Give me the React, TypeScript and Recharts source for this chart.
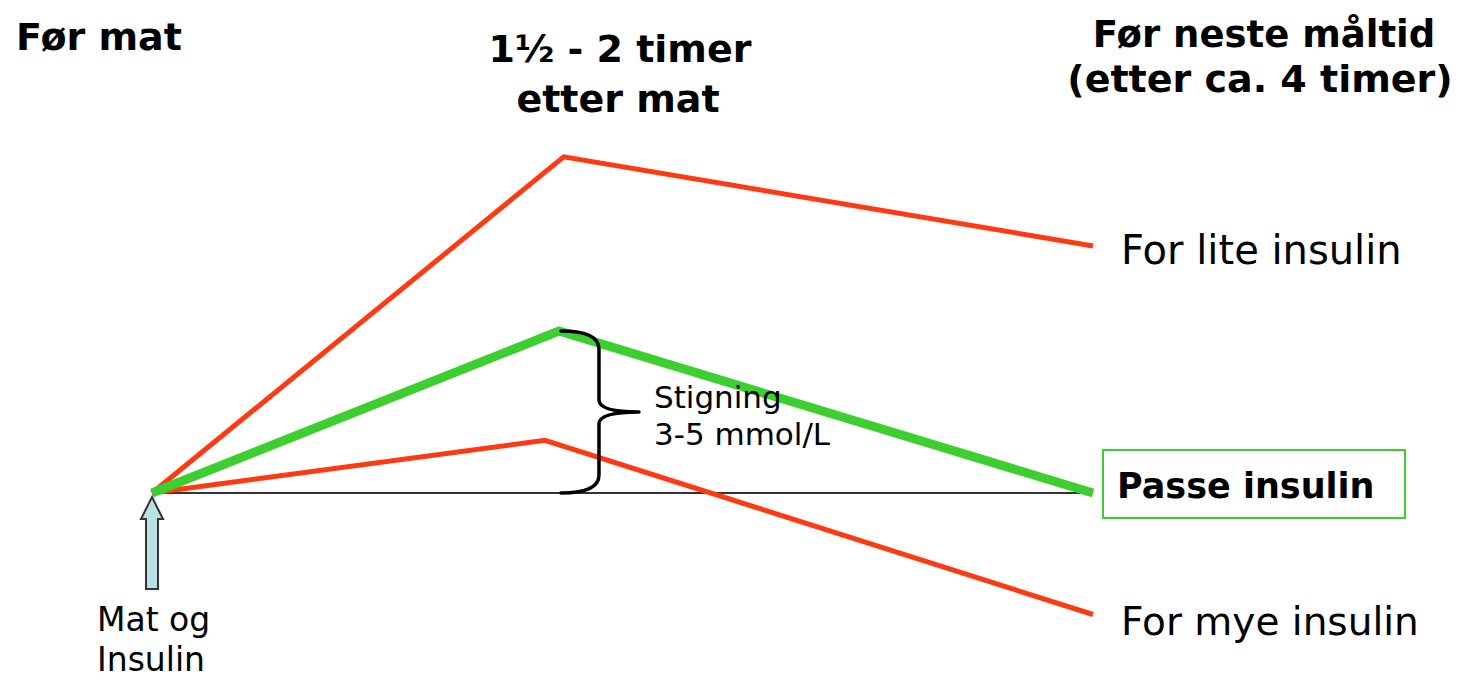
import React from "react";
import { Line, LineChart, ReferenceDot, ReferenceLine, XAxis, YAxis } from "recharts";

// hours after the meal, and blood sugar (mmol/L) for each case
const tooLittleHours = [0, 1.75, 4];
const tooLittleSugar = [6, 14.3, 12.1];
const rightHours = [0, 1.73, 4];
const rightSugar = [6, 10, 6];
const tooMuchHours = [0, 1.67, 4];
const tooMuchSugar = [6, 7.3, 3.0];

const startSugar = 6;
const riseLabel = ["Stigning", "3-5 mmol/L"];
const endLabels = ["For lite insulin", "Passe insulin", "For mye insulin"];

const RED = "#ff3a12";
const GREEN = "#3ccf2f";
const FONT = "'Comic Sans MS', 'DejaVu Sans', sans-serif";

const toRows = (hours: number[], sugar: number[]) => hours.map((t, i) => ({ t, v: sugar[i] }));

const tooLittle = toRows(tooLittleHours, tooLittleSugar);
const right = toRows(rightHours, rightSugar);
const tooMuch = toRows(tooMuchHours, tooMuchSugar);

// curly brace from the peak down to the start level
function Brace(props: any) {
  const { x1, y1, y2 } = props;
  const yT = Math.min(y1, y2);
  const yB = Math.max(y1, y2);
  const L = x1 + 2;
  const mid = (yT + yB) / 2;
  const d =
    `M ${L} ${yT} Q ${L + 38} ${yT} ${L + 38} ${yT + 18} L ${L + 38} ${mid - 12} ` +
    `Q ${L + 38} ${mid} ${L + 78} ${mid} ` +
    `M ${L + 78} ${mid} Q ${L + 38} ${mid} ${L + 38} ${mid + 12} L ${L + 38} ${yB - 18} ` +
    `Q ${L + 38} ${yB} ${L} ${yB}`;
  return (
    <g>
      <path d={d} fill="none" stroke="#000" strokeWidth={3.5} strokeLinecap="round" />
      <text x={L + 93} y={mid - 4} fontFamily={FONT} fontSize={31} fill="#000">
        {riseLabel[0]}
      </text>
      <text x={L + 93} y={mid + 33} fontFamily={FONT} fontSize={31} fill="#000">
        {riseLabel[1]}
      </text>
    </g>
  );
}

// upward arrow under the starting point, meal + insulin
function MealArrow(props: any) {
  const { cx, cy } = props;
  const tip = cy + 4;
  const d =
    `M ${cx} ${tip} L ${cx + 11} ${tip + 22} L ${cx + 6} ${tip + 22} L ${cx + 6} ${tip + 92} ` +
    `L ${cx - 6} ${tip + 92} L ${cx - 6} ${tip + 22} L ${cx - 11} ${tip + 22} Z`;
  return (
    <g>
      <path d={d} fill="#b9e0e3" stroke="#333" strokeWidth={2} strokeLinejoin="miter" />
      <text x={cx - 55} y={cy + 138} fontFamily={FONT} fontSize={33} fill="#000">
        Mat og
      </text>
      <text x={cx - 55} y={cy + 178} fontFamily={FONT} fontSize={33} fill="#000">
        Insulin
      </text>
    </g>
  );
}

function EndText(idx: number, dy: number, size: number, bold = false) {
  return (props: any) => {
    const { cx, cy } = props;
    return (
      <g>
        {bold && (
          <rect x={cx + 10} y={cy - 43} width={302} height={68} fill="none" stroke={GREEN} strokeWidth={2} />
        )}
        <text
          x={cx + (bold ? 24 : 28)}
          y={cy + dy}
          fontFamily={FONT}
          fontSize={size}
          fontWeight={bold ? 700 : 400}
          fill="#000"
        >
          {endLabels[idx]}
        </text>
      </g>
    );
  };
}

export default function App() {
  return (
    <div style={{ position: "absolute", left: 0, top: 0, width: 1471, height: 682, background: "#fff" }}>
      <LineChart width={1471} height={682} margin={{ top: 88, right: 378, bottom: 27, left: 152 }}>
        <XAxis type="number" dataKey="t" domain={[0, 4]} hide />
        <YAxis type="number" domain={[2, 16]} hide />
        <ReferenceLine
          segment={[
            { x: 0, y: startSugar },
            { x: 4, y: startSugar },
          ]}
          stroke="#333"
          strokeWidth={2}
        />
        <Line data={tooLittle} dataKey="v" stroke={RED} strokeWidth={5} dot={false} activeDot={false} isAnimationActive={false} />
        <Line data={tooMuch} dataKey="v" stroke={RED} strokeWidth={5} dot={false} activeDot={false} isAnimationActive={false} />
        <Line data={right} dataKey="v" stroke={GREEN} strokeWidth={9} dot={false} activeDot={false} isAnimationActive={false} />
        <ReferenceLine
          segment={[
            { x: rightHours[1], y: rightSugar[1] },
            { x: rightHours[1], y: startSugar },
          ]}
          shape={Brace}
        />
        <ReferenceDot x={0} y={startSugar} r={0} shape={MealArrow} />
        <ReferenceDot x={4} y={tooLittleSugar[2]} r={0} shape={EndText(0, 18, 40)} />
        <ReferenceDot x={4} y={rightSugar[2]} r={0} shape={EndText(1, 5, 35, true)} />
        <ReferenceDot x={4} y={tooMuchSugar[2]} r={0} shape={EndText(2, 20, 39)} />
      </LineChart>
      <svg
        width={1471}
        height={130}
        style={{ position: "absolute", left: 0, top: 0, pointerEvents: "none" }}
        fontFamily={FONT}
        fontWeight={700}
        fontSize={38}
      >
        <text x={16} y={50}>Før mat</text>
        <text x={620} y={62} textAnchor="middle">1½ - 2 timer</text>
        <text x={618} y={112} textAnchor="middle">etter mat</text>
        <text x={1264} y={47} textAnchor="middle" fontSize={37}>Før neste måltid</text>
        <text x={1260} y={92} textAnchor="middle">(etter ca. 4 timer)</text>
      </svg>
    </div>
  );
}
